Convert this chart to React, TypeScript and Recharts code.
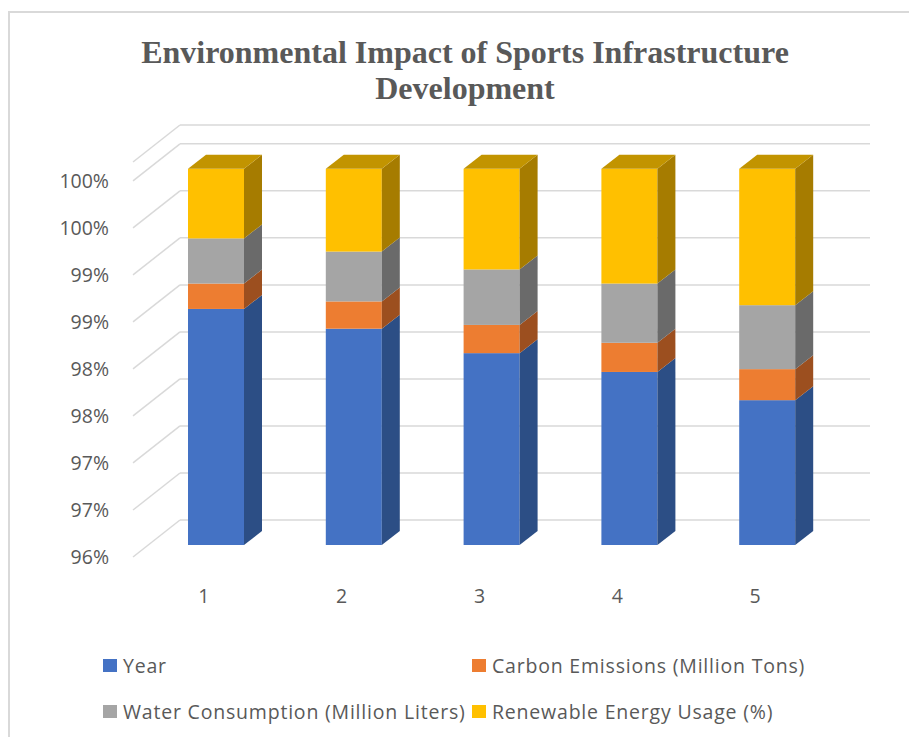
import React from 'react';
import { BarChart, Bar, XAxis, YAxis, CartesianGrid } from 'recharts';

// values (share of each column, in %)
const categories = ['1', '2', '3', '4', '5'];
const yearShare = [98.51, 98.3, 98.04, 97.84, 97.54];
const carbonShare = [0.27, 0.29, 0.3, 0.31, 0.33];
const waterShare = [0.48, 0.53, 0.59, 0.63, 0.68];
const renewableShare = [0.74, 0.88, 1.07, 1.22, 1.45];

const yTicks = [96, 96.5, 97, 97.5, 98, 98.5, 99, 99.5, 100];
const yTickLabels = ['96%', '97%', '97%', '98%', '98%', '99%', '99%', '100%', '100%'];

const SERIES = [
  { key: 'year', name: 'Year', fill: '#4472C4', side: '#2C4E85' },
  { key: 'carbon', name: 'Carbon Emissions (Million Tons)', fill: '#ED7D31', side: '#9C4F1F' },
  { key: 'water', name: 'Water Consumption (Million Liters)', fill: '#A5A5A5', side: '#6A6A6A' },
  { key: 'renewable', name: 'Renewable Energy Usage (%)', fill: '#FFC000', side: '#A67C00', top: '#C29400' },
];

const data = categories.map((c, i) => ({
  name: c,
  year: yearShare[i],
  carbon: carbonShare[i],
  water: waterShare[i],
  renewable: renewableShare[i],
}));

const W = 909;
const H = 737;
const X_AXIS_H = 30;
const Y_AXIS_W = 100;
const MARGIN = { top: 150, right: 73, bottom: 162, left: 47 };
const PLOT_BOTTOM = H - MARGIN.bottom - X_AXIS_H;
const DX = 18;
const DY = 14;
const TEXT = '#595959';
const GRID = '#d9d9d9';
const SANS = '"Open Sans", "Noto Sans", sans-serif';

function Bar3D(props: any) {
  const { x, y, width, height, fill, side, top } = props;
  if (x == null || y == null) return null;
  const bottom = Math.min(y + height, PLOT_BOTTOM);
  if (bottom <= y) return null;
  const r = x + width;
  return (
    <g>
      <rect x={x} y={y} width={width} height={bottom - y} fill={fill} />
      <polygon
        points={`${r},${y} ${r + DX},${y - DY} ${r + DX},${bottom - DY} ${r},${bottom}`}
        fill={side}
      />
      {top && (
        <polygon
          points={`${x},${y} ${x + DX},${y - DY} ${r + DX},${y - DY} ${r},${y}`}
          fill={top}
        />
      )}
    </g>
  );
}

const wallLine = (p: any) => {
  const { x1, x2, y1 } = p;
  return (
    <g key={`wall-${y1}`}>
      <line x1={x1 - 14} y1={y1 + 12} x2={x1 + 33} y2={y1 - 25} stroke={GRID} strokeWidth={1.5} />
      <line x1={x1 + 33} y1={y1 - 25} x2={x2 + 34} y2={y1 - 25} stroke={GRID} strokeWidth={1.5} />
    </g>
  );
};

const YTick = ({ x, y, payload }: any) => {
  const i = yTicks.indexOf(payload.value);
  return (
    <text x={x} y={y + 19} textAnchor="end" fill={TEXT} fontSize={19.5} fontFamily={SANS}>
      {yTickLabels[i]}
    </text>
  );
};

const XTick = ({ x, y, payload }: any) => (
  <text x={x - 12} y={y + 58} textAnchor="middle" fill={TEXT} fontSize={19.5} fontFamily={SANS}>
    {payload.value}
  </text>
);

export default function App() {
  return (
    <div style={{ position: 'absolute', left: 0, top: 0, width: W, height: H, overflow: 'hidden', background: '#fff' }}>
      <div
        style={{
          position: 'absolute',
          left: 8,
          top: 11,
          width: 1200,
          height: 1200,
          border: `2px solid ${GRID}`,
          boxSizing: 'border-box',
        }}
      />
      <div
        style={{
          position: 'absolute',
          left: 0,
          width: 930,
          top: 34,
          textAlign: 'center',
          fontFamily: '"Liberation Serif", "Times New Roman", serif',
          fontWeight: 'bold',
          fontSize: 32,
          lineHeight: '36px',
          color: TEXT,
        }}
      >
        Environmental Impact of Sports Infrastructure
        <br />
        Development
      </div>

      <div style={{ position: 'absolute', left: 0, top: 0 }}>
        <BarChart width={W} height={H} data={data} margin={MARGIN} barCategoryGap={0}>
          <CartesianGrid vertical={false} horizontal={wallLine} />
          <XAxis
            dataKey="name"
            height={X_AXIS_H}
            axisLine={false}
            tickLine={false}
            tickSize={0}
            tickMargin={0}
            tick={<XTick />}
          />
          <YAxis
            width={Y_AXIS_W}
            domain={[96, 100.2]}
            allowDataOverflow
            ticks={yTicks}
            axisLine={false}
            tickLine={false}
            tickSize={0}
            tickMargin={38}
            tick={<YTick />}
          />
          {SERIES.map((s) => (
            <Bar
              key={s.key}
              dataKey={s.key}
              name={s.name}
              stackId="a"
              fill={s.fill}
              barSize={56}
              isAnimationActive={false}
              shape={(p: any) => <Bar3D {...p} fill={s.fill} side={s.side} top={s.top} />}
            />
          ))}
        </BarChart>
      </div>

      {/* legend, 2 x 2 like the Excel original */}
      {SERIES.map((s, i) => {
        const col = i % 2;
        const row = Math.floor(i / 2);
        const left = col === 0 ? 103 : 472;
        const cy = row === 0 ? 665 : 711;
        return (
          <div
            key={s.key}
            style={{
              position: 'absolute',
              left,
              top: cy - 14,
              height: 28,
              display: 'flex',
              alignItems: 'center',
              fontFamily: SANS,
              fontSize: 19.5,
              letterSpacing: 0.8,
              color: TEXT,
              whiteSpace: 'nowrap',
            }}
          >
            <span style={{ width: 14, height: 13, background: s.fill, marginRight: 6 }} />
            {s.name}
          </div>
        );
      })}
    </div>
  );
}
